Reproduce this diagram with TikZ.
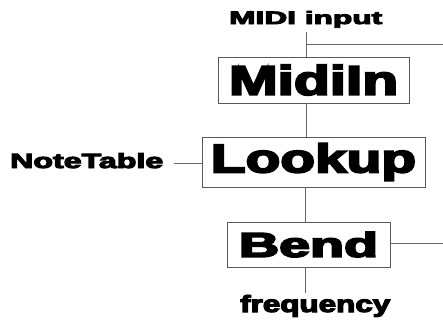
\documentclass[tikz,border=0pt]{standalone}
\usepackage{fontspec}
\usepackage{graphicx}
\newfontfamily\blk[FakeBold=4.5]{Liberation Sans Bold}
\newcommand{\fitt}[3]{\resizebox{#1pt}{#2pt}{\blk #3}}
\tikzset{
  conn/.style={draw=black!60, line width=0.9pt},
  blockbox/.style={draw=black!65, line width=0.9pt, inner sep=0pt, anchor=center},
  lbl/.style={inner sep=0pt}
}
\begin{document}
\begin{tikzpicture}[x=1pt,y=1pt]
\useasboundingbox (0,0) rectangle (443,322);
% blocks
\node[blockbox, minimum width=191pt, minimum height=46pt] (midi) at (313.5,242) {\fitt{169}{30}{MidiIn}};
\node[blockbox, minimum width=223pt, minimum height=50pt] (look) at (313.5,160) {\fitt{205}{29}{Lookup}};
\node[blockbox, minimum width=163pt, minimum height=45pt] (bend) at (308.5,77.5) {\fitt{139}{25}{Bend}};
% labels
\node[lbl, anchor=base west] (minput) at (229,298) {\fitt{153}{13}{MIDI input}};
\node[lbl, anchor=base west] (ntab) at (10,154) {\fitt{153}{15}{NoteTable}};
\node[lbl, anchor=base west] (freq) at (240,10) {\fitt{150}{17}{frequency}};
% coordinates
\coordinate (mtop) at (306,290);
\coordinate (mbr) at (306,278);
\coordinate (mright) at (443,278);
\coordinate (ntend) at (174,159);
\coordinate (bright) at (443,79);
\coordinate (fbot) at (305,29);
% connectors
\draw[conn] (mtop) -- (midi.north -| mtop);
\draw[conn] (mbr) -- (mright);
\draw[conn] (midi.south -| mtop) -- (look.north -| mtop);
\draw[conn] (ntend) -- (look.west |- ntend);
\draw[conn] (look.south -| fbot) -- (bend.north -| fbot);
\draw[conn] (bend.east |- bright) -- (bright);
\draw[conn] (bend.south -| fbot) -- (fbot);
\end{tikzpicture}
\end{document}
